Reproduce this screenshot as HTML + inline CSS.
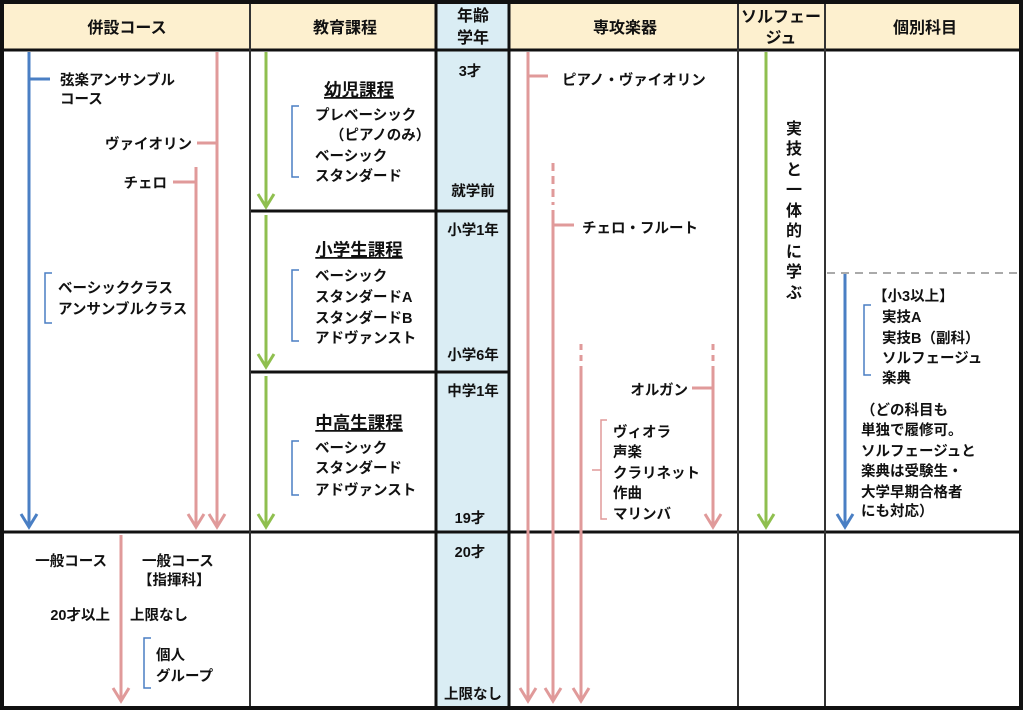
<!DOCTYPE html>
<html><head><meta charset="utf-8"><style>
html,body{margin:0;padding:0;background:#fff;}
svg{display:block;}
text{font-family:"Liberation Sans","Noto Sans CJK JP",sans-serif;font-size:14.5px;font-weight:bold;fill:#111;}
.h{font-size:16px;}
.t{font-size:17.5px;text-decoration:underline;}
.v{font-size:16px;}
</style></head><body>
<svg width="1024" height="711" viewBox="0 0 1024 711" xmlns="http://www.w3.org/2000/svg">
<rect x="0" y="0" width="1024" height="711" fill="#fff"/>
<rect x="2" y="2" width="1019" height="48" fill="#fdf0cf"/>
<rect x="437" y="2" width="72" height="706" fill="#daedf4"/>
<g stroke="#111">
<line x1="2" y1="50" x2="1021" y2="50" stroke-width="3"/>
<line x1="2" y1="532" x2="1021" y2="532" stroke-width="3"/>
<line x1="250" y1="211" x2="509" y2="211" stroke-width="3"/>
<line x1="250" y1="372" x2="509" y2="372" stroke-width="3"/>
<line x1="250" y1="2" x2="250" y2="708" stroke-width="2" stroke="#333"/>
<line x1="436" y1="2" x2="436" y2="708" stroke-width="3"/>
<line x1="509" y1="2" x2="509" y2="708" stroke-width="3"/>
<line x1="738" y1="2" x2="738" y2="708" stroke-width="2" stroke="#333"/>
<line x1="825" y1="2" x2="825" y2="708" stroke-width="2" stroke="#333"/>
<rect x="2" y="2" width="1019" height="706" fill="none" stroke-width="4"/>
</g>
<text class="h" x="127" y="33" text-anchor="middle">併設コース</text>
<text class="h" x="345" y="33" text-anchor="middle">教育課程</text>
<text class="h" x="473" y="21" text-anchor="middle">年齢</text>
<text class="h" x="473" y="43" text-anchor="middle">学年</text>
<text class="h" x="625" y="33" text-anchor="middle">専攻楽器</text>
<text class="h" x="781" y="22" text-anchor="middle">ソルフェー</text>
<text class="h" x="781" y="43" text-anchor="middle">ジュ</text>
<text class="h" x="925" y="33" text-anchor="middle">個別科目</text>

<g fill="none" stroke-width="3">
<path d="M29,52 V526 M21,514 L29,527 L37,514" stroke="#4a7fc4"/>
<path d="M29,79 H50" stroke="#4a7fc4"/>
<path d="M217,52 V526 M209,514 L217,527 L225,514 M197,143 H217" stroke="#e09a9a"/>
<path d="M196,167 V526 M188,514 L196,527 L204,514 M173,182 H196" stroke="#e09a9a"/>
<path d="M121,535 V700 M113,688 L121,701 L129,688" stroke="#e09a9a"/>
</g>
<g fill="none" stroke="#4a7fc4" stroke-width="1.5">
<path d="M52,273 H45 V323 H52"/>
<path d="M151,638 H144 V688 H151"/>
<path d="M299,106 H292 V177 H299"/>
<path d="M299,270 H292 V341 H299"/>
<path d="M299,441 H292 V495 H299"/>
<path d="M871,305 H864 V375 H871"/>
</g>
<text x="60" y="85">弦楽アンサンブル</text>
<text x="60" y="104">コース</text>
<text x="192" y="149" text-anchor="end">ヴァイオリン</text>
<text x="167" y="188" text-anchor="end">チェロ</text>
<text x="58" y="293">ベーシッククラス</text>
<text x="58" y="314">アンサンブルクラス</text>
<text x="107" y="566" text-anchor="end">一般コース</text>
<text x="110" y="620" text-anchor="end">20才以上</text>
<text x="142" y="566">一般コース</text>
<text x="138" y="585">【指揮科】</text>
<text x="130" y="620">上限なし</text>
<text x="156" y="660">個人</text>
<text x="156" y="681">グループ</text>

<g fill="none" stroke="#8fbf4f" stroke-width="3">
<path d="M266,52 V206 M258,194 L266,207 L274,194"/>
<path d="M266,215 V366 M258,354 L266,367 L274,354"/>
<path d="M266,376 V526 M258,514 L266,527 L274,514"/>
<path d="M766,52 V526 M758,514 L766,527 L774,514"/>
</g>
<text class="t" x="359" y="96" text-anchor="middle">幼児課程</text>
<text x="315" y="120">プレベーシック</text>
<text x="330" y="140">（ピアノのみ）</text>
<text x="315" y="161">ベーシック</text>
<text x="315" y="181">スタンダード</text>
<text class="t" x="359" y="256" text-anchor="middle">小学生課程</text>
<text x="315" y="281">ベーシック</text>
<text x="315" y="302">スタンダードA</text>
<text x="315" y="323">スタンダードB</text>
<text x="315" y="343">アドヴァンスト</text>
<text class="t" x="359" y="429" text-anchor="middle">中高生課程</text>
<text x="315" y="453">ベーシック</text>
<text x="315" y="473">スタンダード</text>
<text x="315" y="495">アドヴァンスト</text>

<g text-anchor="middle">
<text x="470" y="76">3才</text>
<text x="473" y="196">就学前</text>
<text x="473" y="235">小学1年</text>
<text x="473" y="360">小学6年</text>
<text x="473" y="396">中学1年</text>
<text x="470" y="523">19才</text>
<text x="470" y="557">20才</text>
<text x="473" y="699">上限なし</text>
</g>

<g fill="none" stroke="#e09a9a" stroke-width="3">
<path d="M528,52 V700 M520,688 L528,701 L536,688 M528,76 H548"/>
<path d="M553,163 V205" stroke-dasharray="8,5"/>
<path d="M553,210 V700 M545,688 L553,701 L561,688 M553,225 H574"/>
<path d="M581,344 V362" stroke-dasharray="6,5"/>
<path d="M581,366 V700 M573,688 L581,701 L589,688"/>
<path d="M713,344 V362" stroke-dasharray="6,5"/>
<path d="M713,366 V526 M705,514 L713,527 L721,514 M692,388 H713"/>
</g>
<path d="M607,420 H601 V519 H607 M601,470 H592" fill="none" stroke="#e09a9a" stroke-width="1.5"/>
<text x="562" y="85">ピアノ・ヴァイオリン</text>
<text x="582" y="233">チェロ・フルート</text>
<text x="688" y="395" text-anchor="end">オルガン</text>
<text x="613" y="437">ヴィオラ</text>
<text x="613" y="457">声楽</text>
<text x="613" y="478">クラリネット</text>
<text x="613" y="498">作曲</text>
<text x="613" y="519">マリンバ</text>

<g text-anchor="middle">
<text class="v" x="794" y="134">実</text>
<text class="v" x="794" y="154">技</text>
<text class="v" x="794" y="175">と</text>
<text class="v" x="794" y="195">一</text>
<text class="v" x="794" y="216">体</text>
<text class="v" x="794" y="236">的</text>
<text class="v" x="794" y="257">に</text>
<text class="v" x="794" y="277">学</text>
<text class="v" x="794" y="298">ぶ</text>
</g>

<path d="M827,273 H1020" stroke="#aaa" stroke-width="2" stroke-dasharray="8,6"/>
<path d="M845,274 V526 M837,514 L845,527 L853,514" fill="none" stroke="#4a7fc4" stroke-width="3"/>
<text x="873" y="301">【小3以上】</text>
<text x="882" y="322">実技A</text>
<text x="882" y="343">実技B（副科）</text>
<text x="882" y="363">ソルフェージュ</text>
<text x="882" y="383">楽典</text>
<text x="861" y="415">（どの科目も</text>
<text x="861" y="435">単独で履修可。</text>
<text x="861" y="456">ソルフェージュと</text>
<text x="861" y="476">楽典は受験生・</text>
<text x="861" y="497">大学早期合格者</text>
<text x="861" y="516">にも対応）</text>
</svg>
</body></html>
